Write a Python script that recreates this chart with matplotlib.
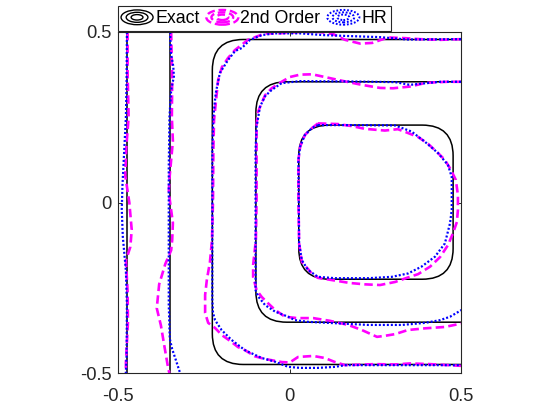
import matplotlib
matplotlib.use('Agg')
import matplotlib.pyplot as plt
from matplotlib.patches import FancyBboxPatch, Ellipse
from matplotlib.lines import Line2D
from matplotlib.legend_handler import HandlerBase

plt.rcParams['font.family'] = ['Liberation Sans', 'DejaVu Sans']

# exact solution: vertical contours and rounded squares (left, right, bottom, top)
exact_vlines = [-0.475, -0.348]
exact_left = [0.027, -0.098, -0.225]
exact_right = [0.477, 0.75, 0.75]
exact_bottom = [-0.225, -0.351, -0.475]
exact_top = [0.227, 0.354, 0.478]
exact_radius = 0.09

# 2nd order scheme contours
so2_a_x = [-0.472, -0.472, -0.469, -0.476, -0.479, -0.467, -0.460, -0.464, -0.477, -0.472, -0.471, -0.477, -0.477]
so2_a_y = [0.50, 0.38, 0.25, 0.16, 0.08, 0.0, -0.08, -0.13, -0.17, -0.26, -0.35, -0.47, -0.50]
so2_b_x = [-0.345, -0.342, -0.343, -0.340, -0.350, -0.352, -0.340, -0.342, -0.345, -0.362, -0.380, -0.387, -0.375, -0.365, -0.353, -0.350]
so2_b_y = [0.50, 0.36, 0.25, 0.18, 0.07, 0.03, -0.06, -0.11, -0.14, -0.18, -0.24, -0.31, -0.36, -0.42, -0.49, -0.50]
so2_c_x = [0.5, 0.439, 0.380, 0.337, 0.287, 0.241, 0.206, 0.162, 0.127, 0.089, 0.031, -0.034, -0.071,
           -0.121, -0.159, -0.179, -0.197, -0.208, -0.214, -0.220, -0.222, -0.223, -0.226, -0.232, -0.241,
           -0.246, -0.246, -0.237, -0.217, -0.197, -0.173, -0.150, -0.130, -0.101, -0.071, -0.022, 0.001,
           0.025, 0.069, 0.103, 0.133, 0.162, 0.249, 0.308, 0.351, 0.410, 0.5]
so2_c_y = [0.479, 0.477, 0.479, 0.482, 0.484, 0.468, 0.466, 0.477, 0.494, 0.500, 0.500, 0.496, 0.496,
           0.477, 0.447, 0.424, 0.397, 0.359, 0.301, 0.242, 0.154, 0.007, -0.110, -0.175, -0.227,
           -0.271, -0.324, -0.353, -0.368, -0.389, -0.406, -0.424, -0.433, -0.451, -0.459, -0.468, -0.469,
           -0.453, -0.450, -0.456, -0.468, -0.477, -0.474, -0.475, -0.472, -0.474, -0.479]
so2_d_x = [0.5, 0.459, 0.398, 0.351, 0.302, 0.264, 0.211, 0.153, 0.103, 0.066, 0.031, 0.001, -0.023,
           -0.052, -0.071, -0.081, -0.092, -0.096, -0.096, -0.098, -0.106, -0.106, -0.096, -0.081, -0.063,
           -0.042, -0.013, 0.022, 0.069, 0.118, 0.171, 0.211, 0.255, 0.278, 0.308, 0.345, 0.395, 0.453, 0.5]
so2_d_y = [0.354, 0.354, 0.351, 0.340, 0.335, 0.336, 0.345, 0.357, 0.368, 0.376, 0.375, 0.368, 0.354,
           0.335, 0.315, 0.292, 0.265, 0.227, 0.007, -0.110, -0.183, -0.218, -0.257, -0.277, -0.295,
           -0.315, -0.335, -0.339, -0.339, -0.347, -0.359, -0.374, -0.394, -0.391, -0.386, -0.374, -0.369, -0.365, -0.355]
so2_e_x = [0.083, 0.141, 0.182, 0.220, 0.278, 0.316, 0.345, 0.375, 0.404, 0.433, 0.453, 0.471, 0.485,
           0.491, 0.491, 0.488, 0.477, 0.462, 0.439, 0.410, 0.375, 0.342, 0.308, 0.264, 0.220, 0.176,
           0.133, 0.083, 0.065, 0.036, 0.028, 0.026, 0.026, 0.031, 0.045, 0.065, 0.083]
so2_e_y = [0.232, 0.230, 0.224, 0.216, 0.211, 0.215, 0.204, 0.192, 0.172, 0.145, 0.125, 0.095, 0.066,
           0.022, -0.022, -0.057, -0.089, -0.125, -0.160, -0.188, -0.210, -0.221, -0.233, -0.242, -0.240, -0.236,
           -0.229, -0.221, -0.208, -0.174, -0.120, 0.007, 0.125, 0.164, 0.198, 0.218, 0.232]

# HR scheme contours
hr_a_x = [-0.474, -0.475, -0.477, -0.482, -0.487, -0.489, -0.486, -0.477, -0.474, -0.475, -0.477]
hr_a_y = [0.50, 0.35, 0.25, 0.15, 0.05, -0.02, -0.10, -0.20, -0.30, -0.45, -0.50]
hr_b_x = [-0.348, -0.346, -0.339, -0.337, -0.345, -0.350, -0.352, -0.352, -0.352, -0.349, -0.342, -0.332, -0.319]
hr_b_y = [0.50, 0.44, 0.40, 0.37, 0.33, 0.25, 0.10, -0.10, -0.30, -0.40, -0.43, -0.46, -0.50]
hr_c_x = [0.5, 0.343, 0.264, 0.176, 0.098, 0.031, -0.004, -0.042, -0.080, -0.115, -0.139, -0.159,
          -0.179, -0.203, -0.215, -0.222, -0.225, -0.225, -0.223, -0.217, -0.198, -0.169, -0.130, -0.081,
          -0.042, -0.004, 0.031, 0.083, 0.133, 0.162, 0.5]
hr_c_y = [0.479, 0.478, 0.485, 0.488, 0.491, 0.496, 0.496, 0.496, 0.491, 0.477, 0.453, 0.444,
          0.418, 0.380, 0.321, 0.252, 0.154, -0.286, -0.324, -0.345, -0.374, -0.403, -0.433, -0.456,
          -0.467, -0.482, -0.485, -0.485, -0.482, -0.477, -0.477]
hr_d_x = [0.5, 0.439, 0.380, 0.351, 0.308, 0.176, 0.031, -0.023, -0.052, -0.071, -0.086, -0.096, -0.099,
          -0.099, -0.091, -0.071, -0.042, -0.004, 0.016, 0.054, 0.133, 0.229, 0.328, 0.395, 0.439, 0.468, 0.502]
hr_d_y = [0.354, 0.354, 0.348, 0.345, 0.353, 0.355, 0.356, 0.350, 0.330, 0.312, 0.281, 0.222, 0.154,
          -0.257, -0.276, -0.301, -0.320, -0.335, -0.345, -0.350, -0.354, -0.359, -0.359, -0.353, -0.345, -0.335, -0.315]
hr_e_x = [0.083, 0.176, 0.308, 0.356, 0.395, 0.433, 0.462, 0.473, 0.473, 0.473, 0.468, 0.453, 0.424,
          0.385, 0.346, 0.298, 0.229, 0.133, 0.083, 0.054, 0.036, 0.028, 0.026, 0.031, 0.045, 0.065, 0.083]
hr_e_y = [0.227, 0.227, 0.226, 0.208, 0.178, 0.145, 0.110, 0.075, 0.016, -0.022, -0.061, -0.120, -0.159,
          -0.188, -0.208, -0.218, -0.222, -0.222, -0.218, -0.198, -0.169, -0.120, 0.125, 0.164, 0.198, 0.218, 0.227]

so2_curves = [(so2_a_x, so2_a_y), (so2_b_x, so2_b_y), (so2_c_x, so2_c_y), (so2_d_x, so2_d_y), (so2_e_x, so2_e_y)]
hr_curves = [(hr_a_x, hr_a_y), (hr_b_x, hr_b_y), (hr_c_x, hr_c_y), (hr_d_x, hr_d_y), (hr_e_x, hr_e_y)]

labels = ['Exact', '2nd Order', 'HR']
ticks = [-0.5, 0, 0.5]
tick_labels = ['-0.5', '0', '0.5']

exact_style = dict(color='black', lw=1.1, ls='-')
so2_style = dict(color='#ff00ff', lw=1.9, ls=(0, (3.2, 1.6)))
hr_style = dict(color='#0000ff', lw=1.6, ls=(0, (0.9, 0.9)))


class ContourIcon(HandlerBase):
    # MATLAB-like legend icon: concentric ellipses
    def __init__(self, style):
        super().__init__()
        self.style = style

    def create_artists(self, legend, orig_handle, xdescent, ydescent, width, height, fontsize, trans):
        cx = width / 2 - xdescent
        cy = height / 2 - ydescent
        out = []
        for s in (1.0, 0.68, 0.37):
            out.append(Ellipse((cx, cy), width * s, height * s, fill=False,
                               edgecolor=self.style['color'], linewidth=self.style['lw'] * 0.9,
                               linestyle=self.style['ls'], transform=trans))
        return out


fig = plt.figure(figsize=(5.6, 4.2), dpi=100)
ax = fig.add_axes([118 / 560, 47 / 420, 343 / 560, 341 / 420])

for xv in exact_vlines:
    ax.plot([xv, xv], [-0.5, 0.5], **exact_style)
for l, r, b, t in zip(exact_left, exact_right, exact_bottom, exact_top):
    box = FancyBboxPatch((l, b), r - l, t - b,
                         boxstyle='round,pad=0,rounding_size=%g' % exact_radius,
                         fill=False, edgecolor='black', linewidth=exact_style['lw'])
    ax.add_patch(box)

for xs, ys in so2_curves:
    ax.plot(xs, ys, **so2_style)
for xs, ys in hr_curves:
    ax.plot(xs, ys, **hr_style)

ax.set_xlim(-0.5, 0.5)
ax.set_ylim(-0.5, 0.5)
ax.set_xticks(ticks)
ax.set_xticklabels(tick_labels)
ax.set_yticks(ticks)
ax.set_yticklabels(tick_labels)
ax.tick_params(direction='in', length=3, width=0.7, top=True, right=True,
               labelsize=13.2, colors='#262626')
ax.tick_params(axis='x', pad=10.5)
ax.tick_params(axis='y', pad=4.5)
for sp in ax.spines.values():
    sp.set_linewidth(0.8)
    sp.set_color('#262626')

h_exact = Line2D([], [], **exact_style)
h_so2 = Line2D([], [], **so2_style)
h_hr = Line2D([], [], **hr_style)
fig.legend([h_exact, h_so2, h_hr], labels, loc='lower left',
           bbox_to_anchor=(117.5 / 560, 1 - 31 / 420), borderaxespad=0, ncol=3,
           fontsize=12.8, handlelength=1.8, handleheight=0.9, handletextpad=0.12,
           columnspacing=0.38, borderpad=0.2, fancybox=False, edgecolor='#262626',
           framealpha=1,
           handler_map={h_exact: ContourIcon(exact_style), h_so2: ContourIcon(so2_style),
                        h_hr: ContourIcon(hr_style)}).get_frame().set_linewidth(0.8)

fig.savefig('out.png', dpi=100)
